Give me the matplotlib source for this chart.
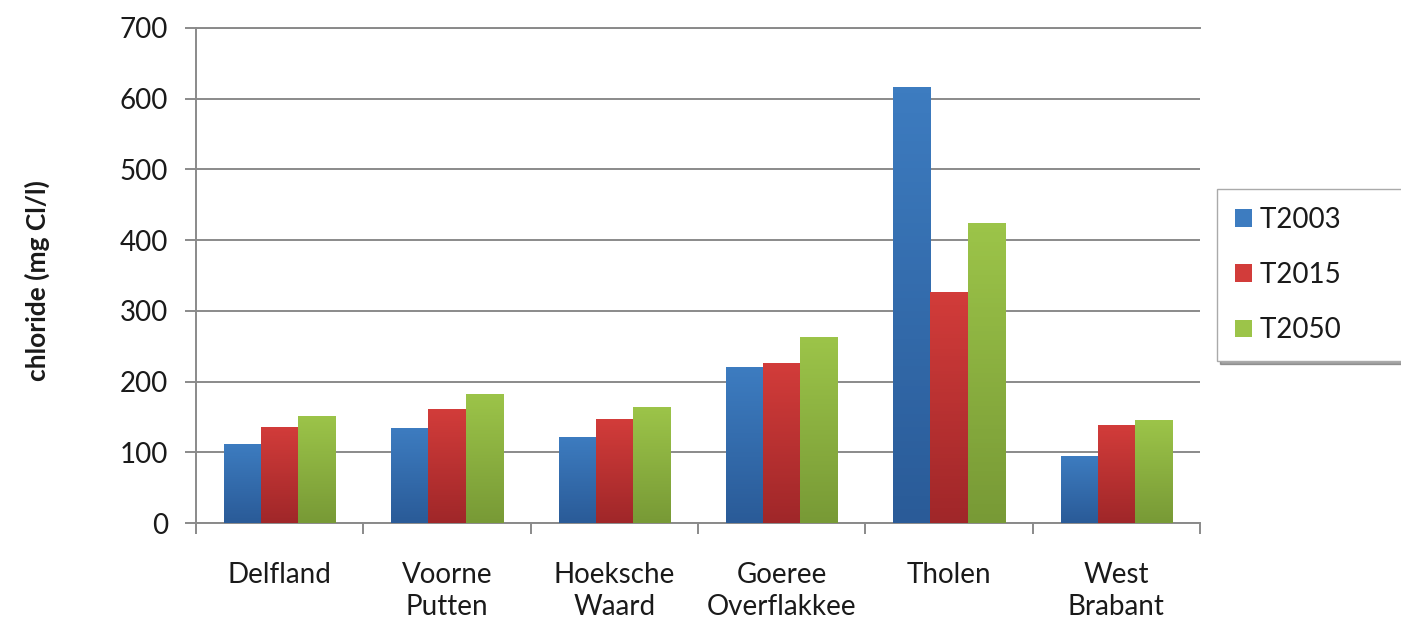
import numpy as np
import matplotlib.pyplot as plt
import matplotlib.ticker as ticker
from matplotlib.colors import LinearSegmentedColormap

# values
REGIONS = ["Delfland", "Voorne\nPutten", "Hoeksche\nWaard", "Goeree\nOverflakkee", "Tholen", "West\nBrabant"]
T2003 = [112, 134, 122, 220, 617, 95]
T2015 = [136, 161, 147, 226, 327, 138]
T2050 = [152, 183, 164, 263, 424, 145]
SERIES = ["T2003", "T2015", "T2050"]

# (top colour, bottom colour) for the gradient fill
COLORS = {
    "T2003": ("#3d7cc0", "#2a5b98"),
    "T2015": ("#d23c3a", "#a02729"),
    "T2050": ("#9cc449", "#789a36"),
}

plt.rcParams["font.family"] = ["Lato", "DejaVu Sans"]
GRID = "#8a8a8a"
TXT = "#1a1a1a"

fig = plt.figure(figsize=(14.01, 6.22), dpi=100)
ax = fig.add_axes([196 / 1401, 1 - 523 / 622, 1004 / 1401, 495 / 622])

x = np.arange(len(REGIONS))
w = 0.222
grad = np.linspace(0, 1, 64).reshape(-1, 1)
for i, (name, vals) in enumerate(zip(SERIES, [T2003, T2015, T2050])):
    top, bot = COLORS[name]
    bars = ax.bar(x + (i - 1) * w, vals, width=w, color=top, label=name, zorder=2)
    cmap = LinearSegmentedColormap.from_list(name, [top, bot])
    for b in bars:
        x0, y0 = b.get_x(), b.get_y()
        im = ax.imshow(grad, cmap=cmap, aspect="auto", zorder=3,
                       extent=[x0, x0 + b.get_width(), y0, y0 + b.get_height()])
        im.set_clip_path(b)

ax.set_xlim(-0.5, len(REGIONS) - 0.5)
ax.set_ylim(0, 700)
ax.yaxis.set_major_locator(ticker.MultipleLocator(100))
ax.grid(True, axis="y", color=GRID, linewidth=1.4, zorder=0)
ax.set_axisbelow(True)

for s in ["top", "right"]:
    ax.spines[s].set_visible(False)
for s in ["left", "bottom"]:
    ax.spines[s].set_color(GRID)
    ax.spines[s].set_linewidth(1.4)

ax.set_xticks(x)
ax.set_xticklabels(REGIONS, fontsize=20, linespacing=1.3, color=TXT)
ax.tick_params(axis="x", which="major", length=0, pad=28)
ax.set_xticks(np.arange(len(REGIONS) + 1) - 0.5, minor=True)
ax.tick_params(axis="x", which="minor", length=8, width=1.4, color=GRID)
ax.tick_params(axis="y", labelsize=20, length=8, width=1.4, color=GRID, pad=12, labelcolor=TXT)

ax.set_ylabel("chloride (mg Cl/l)", fontsize=19, fontweight="bold", color=TXT)
ax.yaxis.set_label_coords(-0.145, 0.49)

ax.axhline(700, color=GRID, linewidth=1.4, zorder=0, clip_on=False)

handles, labels = ax.get_legend_handles_labels()
labels = [l + "        " for l in labels]  # legend box runs off the right edge in the reference
leg = fig.legend(handles, labels, loc="center left", bbox_to_anchor=(1217 / 1401, 1 - 275 / 622),
                 fontsize=20, frameon=True, shadow=True, fancybox=False, labelspacing=1.05,
                 handlelength=0.6, handleheight=0.6, handletextpad=0.3, borderpad=0.65,
                 borderaxespad=0)
leg.get_frame().set_edgecolor("#aaaaaa")
leg.get_frame().set_linewidth(1.0)
for t in leg.get_texts():
    t.set_color(TXT)

fig.savefig("out.png", dpi=100)
